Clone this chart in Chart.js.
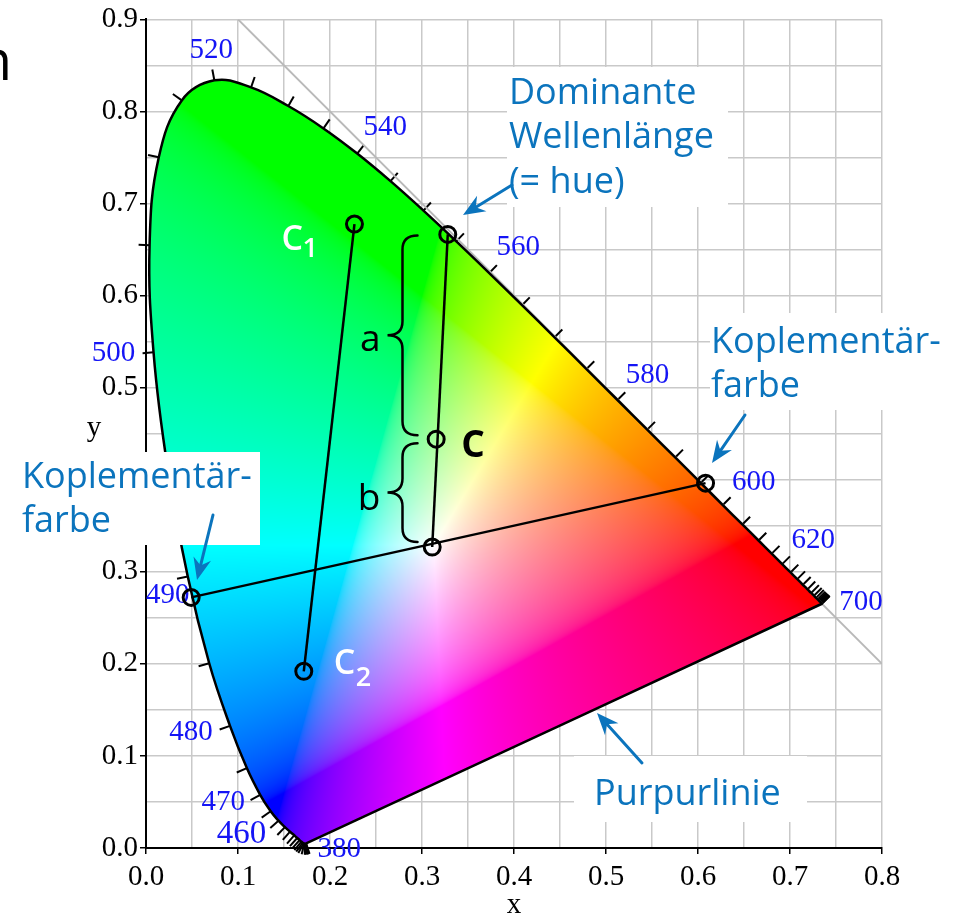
<!DOCTYPE html>
<html><head><meta charset="utf-8">
<script src="https://cdn.jsdelivr.net/npm/chart.js@4.4.1/dist/chart.umd.min.js"></script>
<style>html,body{margin:0;padding:0;background:#fff;overflow:hidden}</style>
</head><body>
<canvas id="c" width="963" height="914" style="display:block;width:963px;height:914px"></canvas>
<script>
// ---------- DATA ----------
const wavelengths = [380,385,390,395,400,405,410,415,420,425,430,435,440,445,450,455,460,465,470,475,480,485,490,495,500,505,510,515,520,525,530,535,540,545,550,555,560,565,570,575,580,585,590,595,600,605,610,615,620,625,630,635,640,645,650,655,660,665,670,675,680,685,690,695,700];
const locusX = [0.1741,0.1740,0.1738,0.1736,0.1733,0.1730,0.1726,0.1721,0.1714,0.1703,0.1689,0.1669,0.1644,0.1611,0.1566,0.1510,0.1440,0.1355,0.1241,0.1096,0.0913,0.0687,0.0454,0.0235,0.0082,0.0039,0.0139,0.0389,0.0743,0.1142,0.1547,0.1929,0.2296,0.2658,0.3016,0.3373,0.3731,0.4087,0.4441,0.4788,0.5125,0.5448,0.5752,0.6029,0.6270,0.6482,0.6658,0.6801,0.6915,0.7006,0.7079,0.7140,0.7190,0.7230,0.7260,0.7283,0.7300,0.7311,0.7320,0.7327,0.7334,0.7340,0.7344,0.7346,0.7347];
const locusY = [0.0050,0.0050,0.0049,0.0049,0.0048,0.0048,0.0048,0.0048,0.0051,0.0058,0.0069,0.0086,0.0109,0.0138,0.0177,0.0227,0.0297,0.0399,0.0578,0.0868,0.1327,0.2007,0.2950,0.4127,0.5384,0.6548,0.7502,0.8120,0.8338,0.8262,0.8059,0.7816,0.7543,0.7243,0.6923,0.6589,0.6245,0.5896,0.5547,0.5202,0.4866,0.4544,0.4242,0.3965,0.3725,0.3514,0.3340,0.3197,0.3083,0.2993,0.2920,0.2859,0.2809,0.2770,0.2740,0.2717,0.2700,0.2689,0.2680,0.2673,0.2666,0.2660,0.2656,0.2654,0.2653];
const labeledWavelengths = [380,460,470,480,490,500,520,540,560,580,600,620,700];
const pointNames = ['C1','C2','C','W','D','K490','K600'];
const pointX = [0.2266,0.1715,0.3154,0.3111,0.3280,0.0491,0.6082];
const pointY = [0.6777,0.1919,0.4441,0.3269,0.6665,0.2722,0.3963];
const segments = [['C1','C2'],['W','D'],['K490','K600']];
const diagonalX = [0.1,0.8];
const diagonalY = [0.9,0.2];
const xRange = [0,0.8];
const yRange = [0,0.9];
const gridStep = 0.05;

// ---------- STYLE ----------
const BLUE = '#0b74bd';
const WL_BLUE = '#1515f5';
const SERIF = '"Liberation Serif","Times New Roman",serif';
const SANS = '"Open Sans","Noto Sans",sans-serif';
const wlLabelOffset = {380:[33,6],460:[-37,14],470:[-37,8],480:[-39,7],490:[-20,19],500:[-40,1],520:[-3,-30],540:[28,-26],560:[29,-26],580:[30,-25],600:[31,-23],620:[31,-24],700:[39,-1]};
const LOCUS_TENSION = 0.4;

const P = {}; pointNames.forEach((n,i)=>P[n]={x:pointX[i],y:pointY[i]});

function xyToRGB(cx, cy){
  cy = Math.max(cy, 1e-4);
  const X = cx/cy, Y = 1, Z = (1-cx-cy)/cy;
  let r =  3.2406*X - 1.5372*Y - 0.4986*Z;
  let g = -0.9689*X + 1.8758*Y + 0.0415*Z;
  let b =  0.0557*X - 0.2040*Y + 1.0570*Z;
  r = Math.max(r,0); g = Math.max(g,0); b = Math.max(b,0);
  const m = Math.max(r,g,b) || 1;
  const gam = v => { v/=m; return v <= 0.0031308 ? 12.92*v : 1.055*Math.pow(v,1/2.4)-0.055; };
  return [gam(r)*255, gam(g)*255, gam(b)*255];
}

let LOCUS_INDEX = -1;
function locusPath(chart){
  const {ctx, scales:{x:xs, y:ys}} = chart;
  try {
    const line = chart.getDatasetMeta(LOCUS_INDEX).dataset;
    line.updateControlPoints(chart.chartArea, 'x');
    ctx.beginPath(); line.path(ctx); ctx.closePath();
    return;
  } catch(e) {}
  ctx.beginPath();
  for (let i=0;i<locusX.length;i++){
    const px = xs.getPixelForValue(locusX[i]), py = ys.getPixelForValue(locusY[i]);
    if (i===0) ctx.moveTo(px,py); else ctx.lineTo(px,py);
  }
  ctx.closePath();
}

const horseshoePlugin = {
  id:'horseshoe',
  beforeDatasetsDraw(chart){
    const {ctx, chartArea:a, scales:{x:xs, y:ys}} = chart;
    if (!this._img){
      const w = Math.round(a.right-a.left), h = Math.round(a.bottom-a.top);
      const off = document.createElement('canvas'); off.width=w; off.height=h;
      const octx = off.getContext('2d'); const img = octx.createImageData(w,h);
      for (let j=0;j<h;j++){
        const cy = ys.getValueForPixel(a.top+j+0.5);
        for (let i=0;i<w;i++){
          const cx = xs.getValueForPixel(a.left+i+0.5);
          const c = xyToRGB(cx,cy); const k=(j*w+i)*4;
          img.data[k]=c[0]; img.data[k+1]=c[1]; img.data[k+2]=c[2]; img.data[k+3]=255;
        }
      }
      octx.putImageData(img,0,0); this._img = off;
    }
    ctx.save();
    locusPath(chart); ctx.clip();
    ctx.drawImage(this._img, a.left, a.top);
    ctx.restore();
    // wavelength ticks
    ctx.save();
    ctx.strokeStyle='#000'; ctx.lineWidth=2;
    const n = locusX.length;
    const px = i => xs.getPixelForValue(locusX[i]);
    const py = i => ys.getPixelForValue(locusY[i]);
    for (let i=0;i<n;i++){
      const i0 = Math.max(0,i-1), i1 = Math.min(n-1,i+1);
      let dx = px(i1)-px(i0), dy = py(i1)-py(i0);
      let len = Math.hypot(dx,dy) || 1;
      let nx = dy/len, ny = -dx/len;
      const L = 11;
      ctx.beginPath(); ctx.moveTo(px(i),py(i)); ctx.lineTo(px(i)+nx*L, py(i)+ny*L); ctx.stroke();
    }
    // wavelength labels
    ctx.fillStyle = WL_BLUE; ctx.textAlign='center'; ctx.textBaseline='middle';
    labeledWavelengths.forEach(wl=>{
      const i = wavelengths.indexOf(wl);
      const o = wlLabelOffset[wl] || [0,-30];
      ctx.font = (wl===460 ? '33px ' : '29px ') + SERIF;
      ctx.fillText(String(wl), px(i)+o[0], py(i)+o[1]);
    });
    ctx.restore();
  }
};

function drawBrace(ctx, xTip, xSpine, xMid, yTop, yBot){
  const r = 14, ym = (yTop+yBot)/2;
  ctx.beginPath();
  ctx.moveTo(xTip, yTop);
  ctx.quadraticCurveTo(xSpine, yTop, xSpine, yTop+r);
  ctx.lineTo(xSpine, ym-r);
  ctx.quadraticCurveTo(xSpine, ym, xMid, ym);
  ctx.quadraticCurveTo(xSpine, ym, xSpine, ym+r);
  ctx.lineTo(xSpine, yBot-r);
  ctx.quadraticCurveTo(xSpine, yBot, xTip, yBot);
  ctx.stroke();
  return ym;
}

function drawArrow(ctx, x1,y1,x2,y2){
  const ang = Math.atan2(y2-y1, x2-x1);
  const L=22, W=9, back=15;
  ctx.save();
  ctx.strokeStyle = BLUE; ctx.fillStyle = BLUE; ctx.lineWidth = 3;
  ctx.beginPath(); ctx.moveTo(x1,y1); ctx.lineTo(x2-Math.cos(ang)*back, y2-Math.sin(ang)*back); ctx.stroke();
  ctx.translate(x2,y2); ctx.rotate(ang);
  ctx.beginPath(); ctx.moveTo(0,0); ctx.lineTo(-L,-W); ctx.lineTo(-back,0); ctx.lineTo(-L,W); ctx.closePath(); ctx.fill();
  ctx.restore();
}

const annotationPlugin = {
  id:'annot',
  afterDatasetsDraw(chart){
    const {ctx, scales:{x:xs, y:ys}} = chart;
    const pp = n => ({x: xs.getPixelForValue(P[n].x), y: ys.getPixelForValue(P[n].y)});
    const c1=pp('C1'), c2=pp('C2'), c=pp('C'), w=pp('W'), d=pp('D');
    ctx.save();
    // braces
    ctx.strokeStyle='#000'; ctx.lineWidth=2.5; ctx.lineCap='round';
    const xTip = xs.getPixelForValue(0.2951), xSpine = xs.getPixelForValue(0.2788), xMid = xs.getPixelForValue(0.2625);
    const ya = drawBrace(ctx, xTip, xSpine, xMid, d.y+1, c.y-4);
    const yb = drawBrace(ctx, xTip, xSpine, xMid, c.y+4, w.y-5);
    ctx.fillStyle='#000'; ctx.textAlign='right'; ctx.textBaseline='alphabetic';
    ctx.font = '37px '+SANS;
    ctx.fillText('a', xMid-7, ya+16);
    ctx.fillText('b', xMid-7, yb+17);
    // point labels
    ctx.textAlign='left';
    ctx.fillStyle='#fff';
    ctx.font='600 34px '+SANS; ctx.fillText('C', c1.x-73, c1.y+26);
    ctx.font='600 27px '+SANS; ctx.fillText('1', c1.x-52, c1.y+33);
    ctx.font='600 34px '+SANS; ctx.fillText('C', c2.x+30, c2.y+3);
    ctx.font='600 27px '+SANS; ctx.fillText('2', c2.x+52, c2.y+15);
    ctx.fillStyle='#000';
    ctx.font='700 37px '+SANS; ctx.fillText('C', c.x+25, c.y+18);
    // white boxes
    ctx.fillStyle='#fff';
    ctx.fillRect(507,67,221,140);
    ctx.fillRect(710,313,250,97);
    ctx.fillRect(0,452,260,93);
    ctx.fillRect(574,756,233,66);
    // blue texts
    ctx.fillStyle=BLUE; ctx.font='36px '+SANS; ctx.textAlign='left';
    ctx.fillText('Dominante',509,104);
    ctx.fillText('Wellenlänge',509,148);
    ctx.fillText('(= hue)',509,193);
    ctx.fillText('Koplementär-',711,353);
    ctx.fillText('farbe',711,397);
    ctx.fillText('Koplementär-',22,488);
    ctx.fillText('farbe',22,532);
    ctx.fillText('Purpurlinie',594,805);
    drawArrow(ctx, 512,185, 463,215);
    drawArrow(ctx, 745,415, 712,463);
    drawArrow(ctx, 213,515, 197,580);
    drawArrow(ctx, 642,763, 597,713);
    // axis titles
    ctx.fillStyle='#000'; ctx.font='29px '+SERIF; ctx.textAlign='center';
    ctx.fillText('x', (xs.left+xs.right)/2, 913);
    ctx.fillText('y', 94, 436);
    // cropped heading fragment
    ctx.font='56px '+SANS; ctx.textAlign='right';
    ctx.fillText('n', 12, 80);
    ctx.restore();
  }
};

const pt = n => ({x:P[n].x, y:P[n].y});
const datasets = [
  {label:'points', data: pointNames.map(pt), showLine:false, pointRadius:8, pointBorderWidth:3, pointBorderColor:'#000', pointBackgroundColor:'rgba(0,0,0,0)', order:0},
  ...segments.map((s,i)=>({label:s.join('-'), data:[pt(s[0]),pt(s[1])], showLine:true, borderColor:'#000', borderWidth:2.5, pointRadius:0, order:1+i})),
  {label:'locus', data: locusX.map((v,i)=>({x:v,y:locusY[i]})).concat([{x:locusX[0],y:locusY[0]}]), showLine:true, tension:LOCUS_TENSION, borderColor:'#000', borderWidth:2.5, pointRadius:0, order:5},
  {label:'diag', data: diagonalX.map((v,i)=>({x:v,y:diagonalY[i]})), showLine:true, borderColor:'#b9b9b9', borderWidth:2, pointRadius:0, order:6}
];
LOCUS_INDEX = datasets.findIndex(d=>d.label==='locus');

const isMajor = v => Math.abs(v*10 - Math.round(v*10)) < 1e-6;
const gridOpts = {
  color:'#c9c9c9', lineWidth:1.5, tickLength:6, tickWidth:1.5,
  tickColor: ctx => (ctx.tick && isMajor(ctx.tick.value)) ? '#000' : 'rgba(0,0,0,0)'
};

new Chart(document.getElementById('c'), {
  type:'scatter',
  data:{datasets},
  plugins:[horseshoePlugin, annotationPlugin],
  options:{
    responsive:false, animation:false, devicePixelRatio:1, events:[],
    layout:{padding:{left:0, top:19, right:81, bottom:0}},
    plugins:{legend:{display:false}, tooltip:{enabled:false}},
    scales:{
      x:{type:'linear', min:xRange[0], max:xRange[1],
        ticks:{stepSize:gridStep, autoSkip:false, maxRotation:0, padding:6, color:'#000', font:{family:SERIF, size:29},
          callback:v=> isMajor(v) ? v.toFixed(1) : ''},
        grid:gridOpts, border:{color:'#000', width:2},
        afterFit:s=>{ s.height = 66; }},
      y:{type:'linear', min:yRange[0], max:yRange[1],
        ticks:{stepSize:gridStep, autoSkip:false, padding:2, color:'#000', font:{family:SERIF, size:29},
          callback:v=> isMajor(v) ? v.toFixed(1) : ''},
        grid:gridOpts, border:{color:'#000', width:2},
        afterFit:s=>{ s.width = 146; }}
    }
  }
});
</script>
</body></html>
